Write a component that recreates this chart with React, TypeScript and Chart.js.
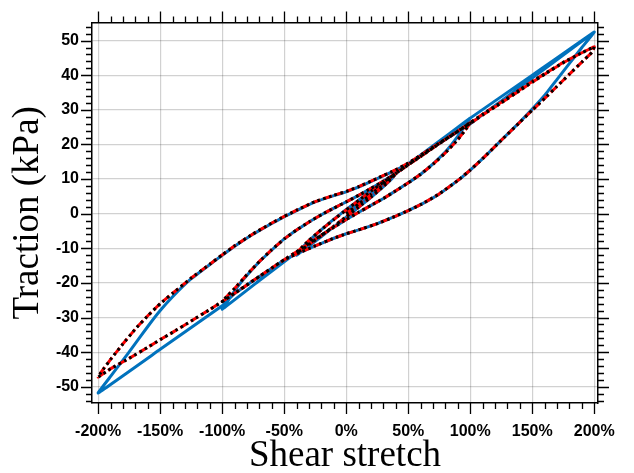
import React, { useEffect, useRef } from "react";
import { Chart, registerables } from "chart.js";

Chart.register(...registerables);

type Pt = [number, number];

// Tick labels
const xTickValues = [-200, -150, -100, -50, 0, 50, 100, 150, 200];
const yTickValues = [-50, -40, -30, -20, -10, 0, 10, 20, 30, 40, 50];

// ---- Experimental / reference curves (red dashed, black dotted) ----
const initialLoad: Pt[] = [[0, 0], [10, 2.8], [20, 5.6], [30, 8.5], [40, 11.6]];
const unload40: Pt[] = [[40, 11.6], [35, 9.6], [30, 7.9], [20, 4.8], [10, 1.9], [0, -0.9], [-10, -3.6], [-20, -6.3], [-30, -8.9], [-35, -10.2], [-40, -11.4]];
const load40: Pt[] = [[-40, -11.4], [-35, -9.4], [-30, -7.7], [-20, -4.6], [-10, -1.7], [0, 1.1], [10, 3.8], [20, 6.5], [30, 9.1], [35, 10.3], [40, 11.6]];
const rampTo100: Pt[] = [[40, 11.6], [50, 14.1], [60, 16.5], [70, 19], [80, 21.4], [90, 23.8], [100, 26.2]];
const unload100: Pt[] = [[100, 26.2], [95, 23.7], [90, 21.4], [80, 17.6], [70, 14.3], [60, 11.4], [50, 8.9], [40, 6.6], [30, 4.4], [20, 2.4], [10, 0.4], [0, -1.7], [-10, -3.9], [-20, -6.2], [-30, -8.6], [-40, -11], [-50, -13.3], [-60, -15.7], [-70, -18.1], [-80, -20.6], [-90, -23], [-100, -25.4]];
const load100: Pt[] = [[-100, -25.4], [-95, -23.4], [-90, -21.6], [-80, -17.6], [-70, -13.8], [-60, -10.4], [-50, -7.3], [-40, -4.7], [-30, -2.4], [-20, -0.3], [-10, 1.6], [0, 3.4], [10, 5.3], [20, 7.3], [30, 9.4], [40, 11.7], [50, 14.2], [60, 16.6], [70, 19.1], [80, 21.5], [90, 23.9], [100, 26.3]];
const rampTo200: Pt[] = [[100, 26.3], [110, 28.7], [125, 32.2], [140, 35.8], [150, 38.2], [160, 40.4], [175, 43.7], [190, 46.5], [200, 48.2]];
const unload200: Pt[] = [[200, 48.2], [198, 46.6], [195, 45.5], [190, 43.8], [180, 40.3], [170, 36.8], [160, 33.3], [150, 29.9], [140, 26.4], [125, 21.2], [110, 15.9], [100, 12.6], [90, 9.6], [75, 5.7], [60, 2.6], [50, 0.9], [40, -0.7], [25, -2.9], [10, -4.7], [0, -5.8], [-10, -7.1], [-25, -9.3], [-40, -11.6], [-50, -13.3], [-60, -15.7], [-75, -19.3], [-90, -23], [-100, -25.4], [-110, -27.7], [-125, -31], [-140, -34.3], [-150, -36.4], [-160, -38.6], [-175, -41.8], [-190, -44.8], [-200, -47.2]];
const load200: Pt[] = [[-200, -47.2], [-198, -46], [-195, -44.5], [-190, -42.1], [-180, -37.6], [-170, -33.3], [-160, -29.5], [-150, -26], [-140, -23], [-125, -18.6], [-110, -14.6], [-100, -11.9], [-90, -9.3], [-75, -5.8], [-60, -2.7], [-50, -0.8], [-40, 1], [-25, 3.5], [-10, 5.3], [0, 6.4], [10, 7.8], [25, 10.2], [40, 12.7], [50, 14.6], [60, 16.9], [75, 20.4], [90, 23.8], [100, 26.1], [110, 28.5], [125, 32], [140, 35.6], [150, 38], [160, 40.3], [175, 43.6], [190, 46.5], [200, 48.2]];

// ---- Model curve (blue solid) ----
const blueInitial: Pt[] = [[0, 0], [10, 2.9], [20, 5.8], [30, 8.7], [40, 11.6]];
const blueUnload40: Pt[] = [[40, 11.6], [37, 10.2], [30, 7.8], [20, 4.7], [10, 1.8], [0, -1], [-10, -3.8], [-20, -6.6], [-30, -9.3], [-40, -12]];
const blueLoad40: Pt[] = [[-40, -12], [-37, -10.5], [-30, -7.8], [-20, -4.6], [-10, -1.6], [0, 1.2], [10, 3.9], [20, 6.6], [30, 9.2], [40, 11.6]];
const blueRampTo100: Pt[] = [[40, 11.6], [70, 19.5], [100, 27.6]];
const blueUnload100: Pt[] = [[100, 27.6], [95, 25], [90, 22.4], [85, 20], [80, 17.9], [70, 14.4], [60, 11.4], [50, 8.9], [40, 6.6], [30, 4.4], [20, 2.4], [10, 0.4], [0, -1.7], [-10, -3.9], [-20, -6.2], [-30, -8.6], [-40, -11.2], [-45, -12.5], [-70, -19.3], [-100, -27.6]];
const blueLoad100: Pt[] = [[-100, -27.6], [-95, -25], [-90, -22.3], [-85, -19.9], [-80, -17.8], [-70, -13.9], [-60, -10.5], [-50, -7.3], [-40, -4.7], [-30, -2.4], [-20, -0.3], [-10, 1.6], [0, 3.4], [10, 5.3], [20, 7.3], [30, 9.4], [40, 11.7], [45, 12.9]];
const blueRampTo200: Pt[] = [[45, 12.9], [100, 27.6], [150, 40], [200, 52.5]];
const blueUnload200: Pt[] = [[200, 52.5], [190, 48], [180, 43.4], [170, 38.8], [160, 34.2], [150, 30.2], [140, 26.5], [125, 21.2], [110, 15.9], [100, 12.6], [90, 9.6], [75, 5.7], [60, 2.6], [50, 0.9], [40, -0.7], [25, -2.9], [10, -4.7], [0, -5.8], [-10, -7.1], [-25, -9.3], [-40, -11.6], [-50, -13.4], [-60, -15.8], [-75, -19.4], [-90, -23.1], [-95, -24.8], [-100, -26.6], [-150, -39.2], [-200, -51.8]];
const blueLoad200: Pt[] = [[-200, -51.8], [-190, -47], [-180, -42.3], [-170, -37.5], [-160, -32.6], [-150, -28], [-140, -24], [-125, -18.8], [-110, -14.7], [-100, -12], [-90, -9.4], [-75, -5.9], [-60, -2.8], [-50, -0.9], [-40, 0.9], [-25, 3.4], [-10, 5.2], [0, 6.3], [10, 7.7], [25, 10.1], [40, 12.6], [50, 14.5], [60, 16.8], [75, 20.3], [90, 23.7], [100, 26], [150, 39.2], [200, 52.5]];

const refPath: Pt[][] = [initialLoad, unload40, load40, rampTo100, unload100, load100, rampTo200, unload200, load200];
const modelPath: Pt[][] = [blueInitial, blueUnload40, blueLoad40, blueRampTo100, blueUnload100, blueLoad100, blueRampTo200, blueUnload200, blueLoad200];

function joinPath(segs: Pt[][]) {
  const out: { x: number; y: number }[] = [];
  segs.forEach((seg, i) => {
    seg.forEach((p, j) => {
      if (i > 0 && j === 0) return;
      out.push({ x: p[0], y: p[1] });
    });
  });
  return out;
}

const X_MIN = -205;
const X_MAX = 203;
const Y_MIN = -54.7;
const Y_MAX = 55.2;

const tickMarks = {
  id: "tickMarks",
  afterDraw(chart: any) {
    const { ctx, chartArea } = chart;
    const { left, right, top, bottom } = chartArea;
    const xs = chart.scales.x;
    const ys = chart.scales.y;
    ctx.save();
    ctx.strokeStyle = "#000";
    ctx.lineWidth = 1.3;
    ctx.beginPath();
    for (let v = -200; v <= 200; v += 10) {
      const px = Math.round(xs.getPixelForValue(v)) + 0.5;
      const len = v % 50 === 0 ? 11 : 6;
      ctx.moveTo(px, bottom);
      ctx.lineTo(px, bottom + len);
      ctx.moveTo(px, top);
      ctx.lineTo(px, top - len);
    }
    for (let v = -54; v <= 54; v += 2) {
      const py = Math.round(ys.getPixelForValue(v)) + 0.5;
      const len = v % 10 === 0 ? 11 : 6;
      ctx.moveTo(left, py);
      ctx.lineTo(left - len, py);
      ctx.moveTo(right, py);
      ctx.lineTo(right + len, py);
    }
    ctx.stroke();
    ctx.restore();
  },
};

export default function App() {
  const canvasRef = useRef<HTMLCanvasElement | null>(null);

  useEffect(() => {
    document.body.style.margin = "0";
    const canvas = canvasRef.current;
    if (!canvas) return;
    const tickFont = { family: "'Liberation Sans', Arial, sans-serif", size: 16, weight: "bold" as const };
    const titleFont = { family: "'Liberation Serif', 'DejaVu Serif', serif", size: 37, weight: "normal" as const, lineHeight: 1 };
    const gridColor = "rgba(0,0,0,0.18)";

    const chart = new Chart(canvas, {
      type: "scatter",
      data: {
        datasets: [
          {
            label: "Reference (dotted)",
            data: joinPath(refPath),
            showLine: true,
            borderColor: "#000000",
            borderWidth: 3,
            borderDash: [2.5, 3.5],
            pointRadius: 0,
            tension: 0.08,
            order: 0,
          },
          {
            label: "Reference (dashed)",
            data: joinPath(refPath),
            showLine: true,
            borderColor: "#ff0000",
            borderWidth: 3,
            borderDash: [9, 3],
            pointRadius: 0,
            tension: 0.08,
            order: 1,
          },
          {
            label: "Model",
            data: joinPath(modelPath),
            showLine: true,
            borderColor: "rgb(0,114,189)",
            borderWidth: 3,
            pointRadius: 0,
            tension: 0.08,
            order: 2,
          },
        ],
      },
      options: {
        responsive: false,
        animation: false,
        devicePixelRatio: 1,
        layout: { padding: 0 },
        plugins: {
          legend: { display: false },
          tooltip: { enabled: false },
        },
        scales: {
          x: {
            type: "linear",
            position: "bottom",
            min: X_MIN,
            max: X_MAX,
            afterBuildTicks: (s: any) => {
              s.ticks = xTickValues.map((v) => ({ value: v }));
            },
            afterFit: (s: any) => {
              s.height = 70;
            },
            ticks: {
              callback: (v: any) => `${v}%`,
              font: tickFont,
              color: "#000",
              padding: 19,
              maxRotation: 0,
              autoSkip: false,
            },
            grid: { color: gridColor, lineWidth: 1.2, drawTicks: false },
            border: { color: "#000", width: 1.5 },
            title: {
              display: true,
              text: "Shear stretch",
              font: titleFont,
              color: "#000",
              padding: { top: 0, bottom: -2 },
            },
          },
          xTop: {
            type: "linear",
            axis: "x",
            position: "top",
            min: X_MIN,
            max: X_MAX,
            afterFit: (s: any) => {
              s.height = 16;
            },
            ticks: { display: false },
            grid: { display: true, drawOnChartArea: false, drawTicks: false },
            border: { color: "#000", width: 1.5 },
          },
          y: {
            type: "linear",
            position: "left",
            min: Y_MIN,
            max: Y_MAX,
            afterBuildTicks: (s: any) => {
              s.ticks = yTickValues.map((v) => ({ value: v }));
            },
            afterFit: (s: any) => {
              s.width = 92;
            },
            ticks: {
              callback: (v: any) => `${v}`,
              font: tickFont,
              color: "#000",
              padding: 13,
              autoSkip: false,
            },
            grid: { color: gridColor, lineWidth: 1.2, drawTicks: false },
            border: { color: "#000", width: 1.5 },
            title: {
              display: true,
              text: "Traction (kPa)",
              font: titleFont,
              color: "#000",
              padding: { top: 10, bottom: 0 },
            },
          },
          yRight: {
            type: "linear",
            axis: "y",
            position: "right",
            min: Y_MIN,
            max: Y_MAX,
            afterFit: (s: any) => {
              s.width = 17;
            },
            ticks: { display: false },
            grid: { display: true, drawOnChartArea: false, drawTicks: false },
            border: { color: "#000", width: 1.5 },
          },
        },
      },
      plugins: [tickMarks],
    } as any);

    return () => {
      chart.destroy();
    };
  }, []);

  return (
    <div style={{ width: 634, height: 473, position: "relative", background: "#fff" }}>
      <canvas ref={canvasRef} width={634} height={473} style={{ width: 634, height: 473, display: "block" }} />
    </div>
  );
}
